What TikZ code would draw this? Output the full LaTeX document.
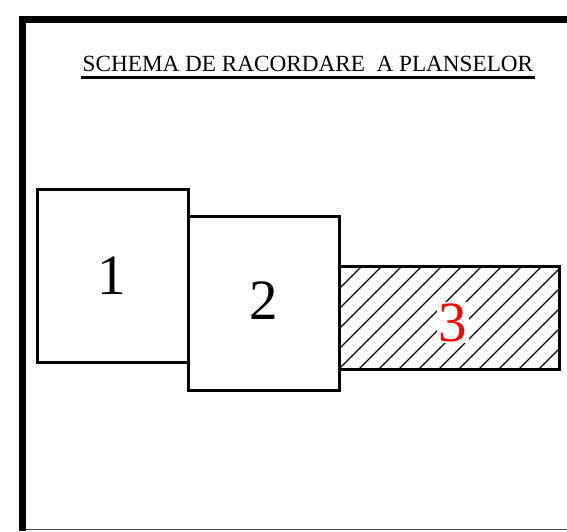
\documentclass[tikz,border=0pt]{standalone}
\usepackage{fontspec}
\setmainfont{Liberation Serif}
\usepackage{tikz}

\begin{document}
\begin{tikzpicture}[x=1pt,y=-1pt]
\tikzstyle{every node}+=[inner sep=0pt]
\tikzstyle{sheet}=[black, line width=3pt]
\tikzstyle{sheetnum}=[font=\fontsize{57}{57}\selectfont]
\useasboundingbox (0,0) rectangle (567,531);
% frame
\draw [black, line width=7pt] (22,531) -- (22,19) -- (567,19);
\draw [black!70, line width=1.2pt] (26,529.5) -- (567,529.5);
% title
\node (title) at (308,64) {\fontsize{23.2}{23.2}\selectfont SCHEMA DE RACORDARE\ \ A PLANSELOR};
\draw [black, line width=3pt] ([xshift=-2,yshift=-5.5]title.base west) -- ([xshift=2,yshift=-5.5]title.base east);
% hatch of sheet 3
\begin{scope}
\clip (339,266) rectangle (559,369);
\foreach \x in {219,239,...,559}
  \draw [black, line width=1.1pt] (\x,369) -- ++(120,-120);
\end{scope}
% sheets
\draw [sheet] (37,189) rectangle (188,362);
\draw [sheet] (188,216) rectangle (339,390);
\draw [sheet] (339,266) rectangle (559,369);
\node [sheetnum] (s1) at (112,276) {1};
\node [sheetnum] (s2) at (264,301) {2};
\node [sheetnum, red, fill=white, inner sep=1.5pt] (s3) at (453,322.5) {3};
\end{tikzpicture}
\end{document}
